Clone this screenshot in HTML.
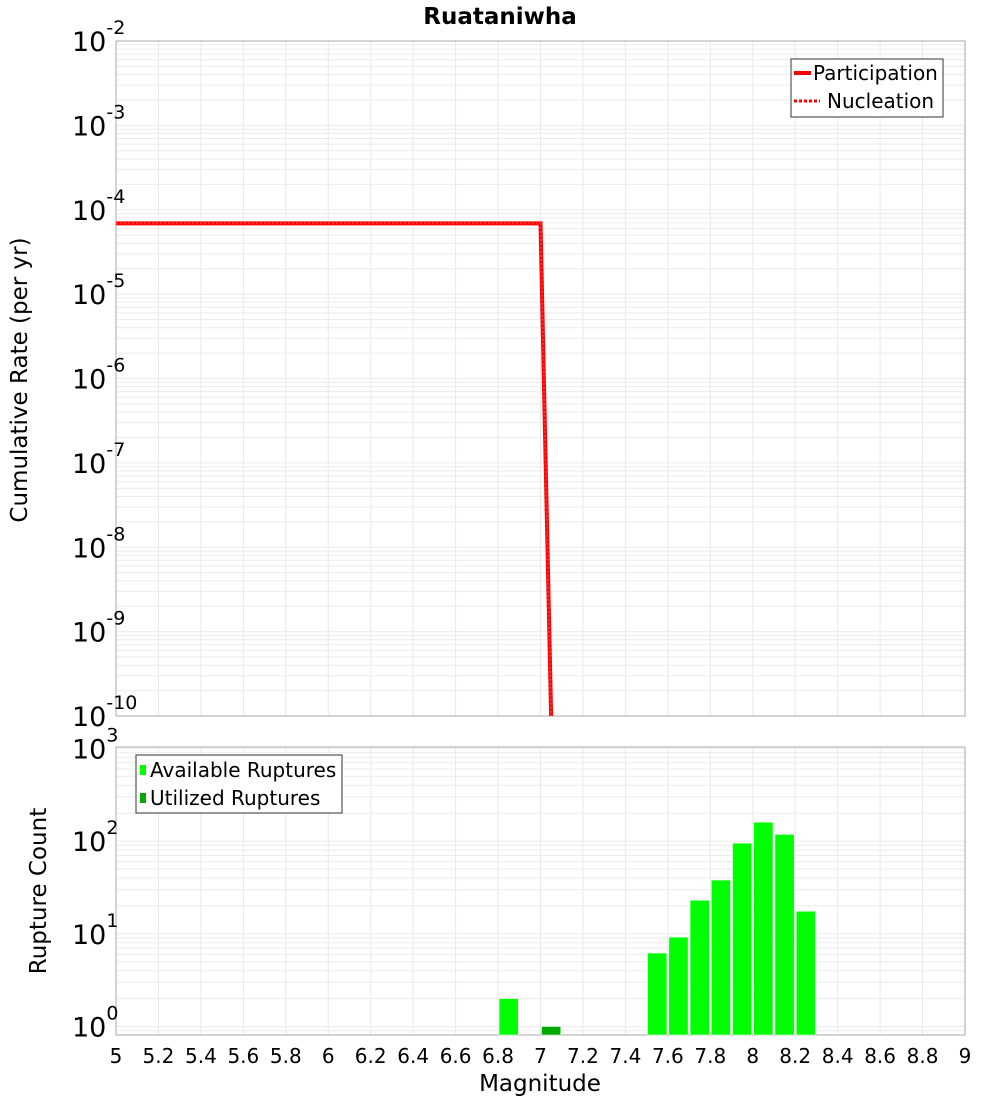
<!DOCTYPE html>
<html><head><meta charset="utf-8"><style>
body{margin:0;background:#fff;font-family:"Liberation Sans","DejaVu Sans",sans-serif}
svg{display:block}
</style></head><body>
<svg id="c" width="1000" height="1100" font-family="DejaVu Sans, Liberation Sans, sans-serif"></svg>
<script>
const rateMags=[5,7.0,7.05];
const rateVals=[6.9e-5,6.9e-5,1e-10];
const barStarts=[6.8,7.5,7.6,7.7,7.8,7.9,8.0,8.1,8.2];
const barCounts=[2,6.2,9.2,23,38,95,160,118,17.5];
const usedStarts=[7.0];
const usedCounts=[1];
const xTicks=["5","5.2","5.4","5.6","5.8","6","6.2","6.4","6.6","6.8","7","7.2","7.4","7.6","7.8","8","8.2","8.4","8.6","8.8","9"];
const topExps=[-2,-3,-4,-5,-6,-7,-8,-9,-10];
const botExps=[3,2,1,0];

const S=document.getElementById('c'),NS='http://www.w3.org/2000/svg';
function mk(t,a,p){const e=document.createElementNS(NS,t);for(const k in a)e.setAttribute(k,a[k]);(p||S).appendChild(e);return e;}
const L=116,R=965;
const X=m=>L+(m-5)/4*(R-L);
const T0=41,T1=716;const YT=v=>T0+(-2-Math.log10(v))/8*(T1-T0);
const B0=747,B1=1035;const YB=v=>1026.5-Math.log10(v)*92.7;

function grid(y0,y1,yf,emin,emax,nm){
 const g=mk('g',{});
 for(let i=1;i<20;i++){const x=X(5+i*0.2);mk('line',{x1:x,x2:x,y1:y0,y2:y1,stroke:'#e8e8e8'},g);}
 for(let e=emin;e<=emax;e++)for(let k=1;k<10;k++){const y=yf(k*Math.pow(10,e));if(y>y0&&y<y1)mk('line',{x1:L,x2:R,y1:y,y2:y,stroke:'#ebebeb'},g);}
}
grid(T0,T1,YT,-10,-3,'top-grid');
grid(B0,B1,YB,-1,3,'bottom-grid');
mk('rect',{x:L,y:T0,width:R-L,height:T1-T0,fill:'none',stroke:'#aaa'});
mk('rect',{x:L,y:B0,width:R-L,height:B1-B0,fill:'none',stroke:'#aaa'});

const t=mk('text',{x:500,y:24,'text-anchor':'middle','font-size':23,'font-weight':'bold'});t.textContent='Ruataniwha';


function ylab(exp,y,nm){const e=mk('text',{x:72,y:y+10,'font-size':27});
 
 e.appendChild(document.createTextNode('10'));const s=mk('tspan',{dy:-17,'font-size':19},e);s.textContent=String(exp);}
topExps.forEach(e=>ylab(e,YT(Math.pow(10,e)),'top-y-tick'));
botExps.forEach(e=>ylab(e,YB(Math.pow(10,e)),'bottom-y-tick'));

xTicks.forEach(s=>{const e=mk('text',{x:X(+s),y:1063,'text-anchor':'middle','font-size':20});e.textContent=s;
 });
let a=mk('text',{x:540,y:1091,'text-anchor':'middle','font-size':23});a.textContent='Magnitude';

a=mk('text',{x:0,y:0,'text-anchor':'middle','font-size':23,transform:'translate(27,380) rotate(-90)'});a.textContent='Cumulative Rate (per yr)';

a=mk('text',{x:0,y:0,'text-anchor':'middle','font-size':23,transform:'translate(46,891) rotate(-90)'});a.textContent='Rupture Count';


mk('clipPath',{id:'cp'});mk('rect',{x:L,y:T0,width:R-L,height:T1-T0},document.getElementById('cp'));
const pts=rateMags.map((m,i)=>X(m)+','+YT(rateVals[i])).join(' ');
let pl=mk('polyline',{points:pts,fill:'none',stroke:'#f00','stroke-width':4,'clip-path':'url(#cp)'});

pl=mk('polyline',{points:pts,fill:'none',stroke:'#f33','stroke-width':2,'stroke-dasharray':'2,2','clip-path':'url(#cp)'});


function bars(st,ct,col,nm){st.forEach((s,i)=>{const x0=X(s)+1,x1=X(s+0.1)-1,y=Math.max(YB(ct[i]),B0);
 const r=mk('rect',{x:x0,y:y,width:x1-x0,height:B1-y,fill:col,stroke:'#fff','stroke-width':0.5});
 });}
bars(barStarts,barCounts,'#00ff00','available-bar');
bars(usedStarts,usedCounts,'#00aa00','utilized-bar');

let lg=mk('g',{});
mk('rect',{x:791,y:59,width:152,height:58,fill:'#fff',stroke:'#333'},lg);
mk('line',{x1:794,x2:811,y1:73,y2:73,stroke:'#f00','stroke-width':4},lg);
mk('line',{x1:794,x2:820,y1:101,y2:101,stroke:'#f00','stroke-width':3,'stroke-dasharray':'3,2'},lg);
let e=mk('text',{x:813,y:80,'font-size':20},lg);e.textContent='Participation';
e=mk('text',{x:827,y:108,'font-size':20},lg);e.textContent='Nucleation';
lg=mk('g',{});
mk('rect',{x:136,y:755,width:206,height:58,fill:'#fff',stroke:'#333'},lg);
mk('rect',{x:140,y:765,width:6,height:10,fill:'#00ff00'},lg);
mk('rect',{x:140,y:793,width:6,height:10,fill:'#00aa00'},lg);
e=mk('text',{x:150,y:777,'font-size':20},lg);e.textContent='Available Ruptures';
e=mk('text',{x:150,y:805,'font-size':20},lg);e.textContent='Utilized Ruptures';
</script>
</body></html>
